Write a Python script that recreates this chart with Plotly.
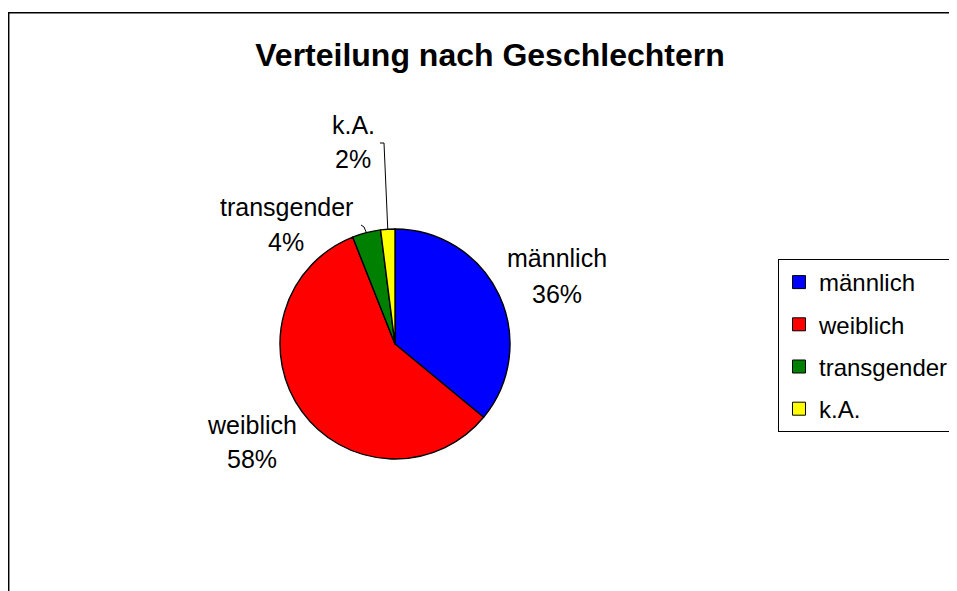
import math
import plotly.graph_objects as go

# ---- data ----
categories = ["männlich", "weiblich", "transgender", "k.A."]
values = [36, 58, 4, 2]
colors = ["#0000FF", "#FF0000", "#008000", "#FFFF00"]
title_text = "Verteilung nach Geschlechtern"

# ---- layout helpers (page pixel -> paper); page body has an 8px margin ----
W, H = 957, 591
OFF = 8
def px(x):
    return (x - OFF) / W
def py(y):
    return 1 - (y - OFF) / H

CX, CY, R = 395, 344, 115          # pie centre / radius in pixels
FONT = "Arial, Liberation Sans, sans-serif"
FS = 25

# label placement (x centre, baseline of name line, baseline of % line) in pixels
label_pos = {
    "männlich": (557, 266, 302),
    "weiblich": (252, 433, 467),
    "transgender": (286, 215, 250),
    "k.A.": (353, 133, 167),
}
# leader line start points (label side) for the small slices
leaders = {
    "transgender": [(361, 225), (364, 227)],
    "k.A.": [(380, 143), (384, 143)],
}

fig = go.Figure()
fig.add_trace(go.Pie(
    labels=categories,
    values=values,
    marker=dict(colors=colors, line=dict(color="black", width=1.4)),
    sort=False,
    direction="clockwise",
    rotation=0,
    textinfo="none",
    hoverinfo="label+percent",
    showlegend=False,
    domain=dict(x=[px(CX - R), px(CX + R)], y=[py(CY + R), py(CY - R)]),
))

# legend entries (one group per category so row spacing can be set)
for cat, col in zip(categories, colors):
    fig.add_trace(go.Scatter(
        x=[None], y=[None], mode="markers", name=cat, legendgroup=cat,
        showlegend=True, hoverinfo="skip",
        marker=dict(symbol="square", size=13, color=col,
                    line=dict(color="black", width=1)),
    ))

total = sum(values)
annotations = []
shapes = []
cum = 0
for cat, v in zip(categories, values):
    mid = (cum + v / 2) / total
    cum += v
    th = 2 * math.pi * mid
    ex, ey = CX + R * math.sin(th), CY - R * math.cos(th)
    lx, b1, b2 = label_pos[cat]
    pct = f"{round(100 * v / total)}%"
    for txt, base in ((cat, b1), (pct, b2)):
        annotations.append(dict(
            text=txt, x=px(lx), y=py(base - 8), xref="paper", yref="paper",
            xanchor="center", yanchor="middle", showarrow=False,
            font=dict(family=FONT, size=FS, color="black"),
        ))
    if cat in leaders:
        pts = leaders[cat] + [(ex, ey)]
        path = "M " + " L ".join(f"{px(a)},{py(b)}" for a, b in pts)
        shapes.append(dict(type="path", path=path, xref="paper", yref="paper",
                           line=dict(color="black", width=1)))

# chart area border
shapes.append(dict(type="rect", xref="paper", yref="paper",
                   x0=px(8.7), y0=py(12.8), x1=px(1200), y1=py(900),
                   line=dict(color="black", width=1.5)))

fig.update_xaxes(visible=False)
fig.update_yaxes(visible=False)
fig.update_layout(
    width=W, height=H,
    margin=dict(l=0, r=0, t=0, b=0, autoexpand=False),
    paper_bgcolor="white", plot_bgcolor="white",
    title=dict(text=title_text, x=px(490), xanchor="center",
               y=py(55), yanchor="middle", yref="paper",
               font=dict(family=FONT, size=32, color="black", weight="bold")),
    showlegend=True,
    legend=dict(x=px(778), y=py(259), xanchor="left", yanchor="top",
                bordercolor="black", borderwidth=1, bgcolor="white",
                font=dict(family=FONT, size=24, color="black"),
                itemwidth=30, tracegroupgap=8, traceorder="grouped"),
    annotations=annotations,
    shapes=shapes,
)

fig.write_html("out.html")
